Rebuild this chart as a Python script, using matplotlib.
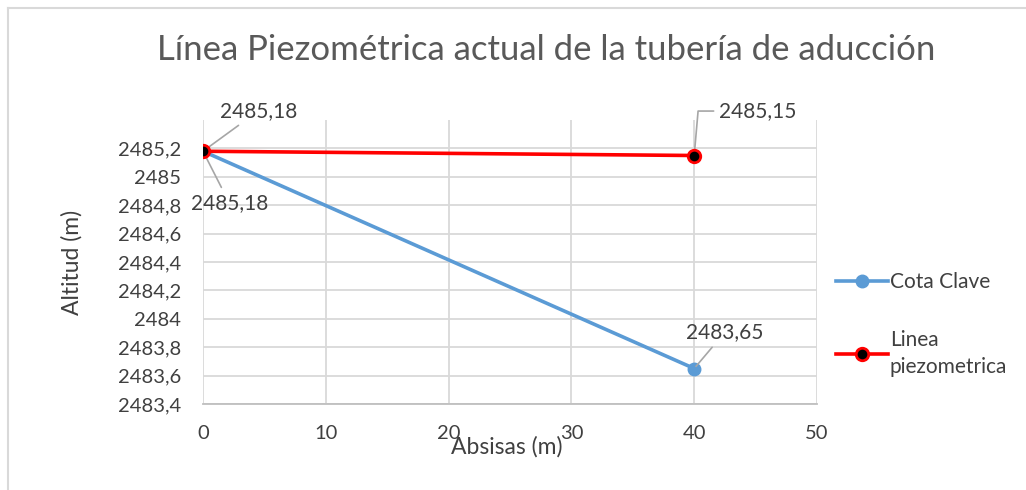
import matplotlib
matplotlib.use("Agg")
import matplotlib.pyplot as plt
from matplotlib.lines import Line2D
from matplotlib.ticker import FuncFormatter

plt.rcParams['font.family'] = ['Lato', 'DejaVu Sans']

# --- data ---
absisas = [0, 40]
cota_clave = [2485.18, 2483.65]
linea_piezo = [2485.18, 2485.15]
x_ticks = [0, 10, 20, 30, 40, 50]
y_ticks = [2483.4, 2483.6, 2483.8, 2484.0, 2484.2, 2484.4, 2484.6, 2484.8, 2485.0, 2485.2]

txt = '#404040'
grid_c = '#d9d9d9'

def coma(v, pos=None):
    s = ('%.2f' % v).rstrip('0').rstrip('.')
    return s.replace('.', ',')

fig = plt.figure(figsize=(10.26, 4.90), dpi=100)
ax = fig.add_axes([203/1026, 1 - 404/490, (817-203)/1026, (404-120)/490])

ax.plot(absisas, cota_clave, color='#5b9bd5', lw=2.6, marker='o', ms=9,
        label='Cota Clave', zorder=3)
ax.plot(absisas, linea_piezo, color='#ff0000', lw=2.6, marker='o', ms=9,
        markerfacecolor='black', markeredgecolor='#ff0000', markeredgewidth=2,
        label='Linea\npiezometrica', zorder=4)

ax.set_xlim(0, 50)
ax.set_ylim(2483.4, 2485.4)
ax.set_xticks(x_ticks)
ax.set_yticks(y_ticks)
ax.yaxis.set_major_formatter(FuncFormatter(coma))
ax.grid(True, color=grid_c, lw=1.3)
ax.tick_params(length=0, labelsize=14.5, colors=txt)
ax.tick_params(axis='y', pad=16)
ax.tick_params(axis='x', pad=15)
for s in ['top', 'right', 'left']:
    ax.spines[s].set_visible(False)
ax.spines['bottom'].set_color('#bfbfbf')
ax.spines['bottom'].set_linewidth(1.3)

# data labels with leader lines
fs = 15
lead = dict(arrowstyle='-', color='#a6a6a6', lw=1.2, shrinkA=2, shrinkB=2)
ax.annotate(coma(linea_piezo[0]), (absisas[0], linea_piezo[0]), xytext=(12, 29),
            textcoords='offset points', fontsize=fs, color=txt, ha='left', va='center',
            arrowprops=lead)
ax.annotate(coma(cota_clave[0]), (absisas[0], cota_clave[0]), xytext=(-9, -37),
            textcoords='offset points', fontsize=fs, color=txt, ha='left', va='center',
            arrowprops=lead)
ax.annotate(coma(linea_piezo[1]), (absisas[1], linea_piezo[1]), xytext=(18, 32),
            textcoords='offset points', fontsize=fs, color=txt, ha='left', va='center',
            arrowprops=dict(arrowstyle='-', color='#a6a6a6', lw=1.2, shrinkA=2, shrinkB=2,
                            connectionstyle='angle,angleA=0,angleB=85,rad=0'))
ax.annotate(coma(cota_clave[1]), (absisas[1], cota_clave[1]), xytext=(22, 26),
            textcoords='offset points', fontsize=fs, color=txt, ha='center', va='center',
            arrowprops=lead)

fig.text(546/1026, 1 - 50/490, 'Línea Piezométrica actual de la tubería de aducción',
         fontsize=25, color='#595959', ha='center', va='center')
fig.text(72/1026, 1 - 262/490, 'Altitud (m)', fontsize=16.5, color=txt,
         ha='center', va='center', rotation=90)
fig.text(507/1026, 1 - 447/490, 'Absisas (m)', fontsize=16.5, color=txt,
         ha='center', va='center')

leg = ax.legend(loc='center left', bbox_to_anchor=(1.0, 0.28), frameon=False,
                fontsize=15, labelcolor=txt, handlelength=2.5, handletextpad=0.1,
                labelspacing=1.8)
leg.get_texts()[1].set_linespacing(1.45)

# chart border
fig.add_artist(Line2D([8/1026, 8/1026], [0, 1 - 8/490], transform=fig.transFigure,
                      color='#d9d9d9', lw=1.5))
fig.add_artist(Line2D([8/1026, 1], [1 - 8/490, 1 - 8/490], transform=fig.transFigure,
                      color='#d9d9d9', lw=1.5))

fig.savefig('out.png', dpi=100)
